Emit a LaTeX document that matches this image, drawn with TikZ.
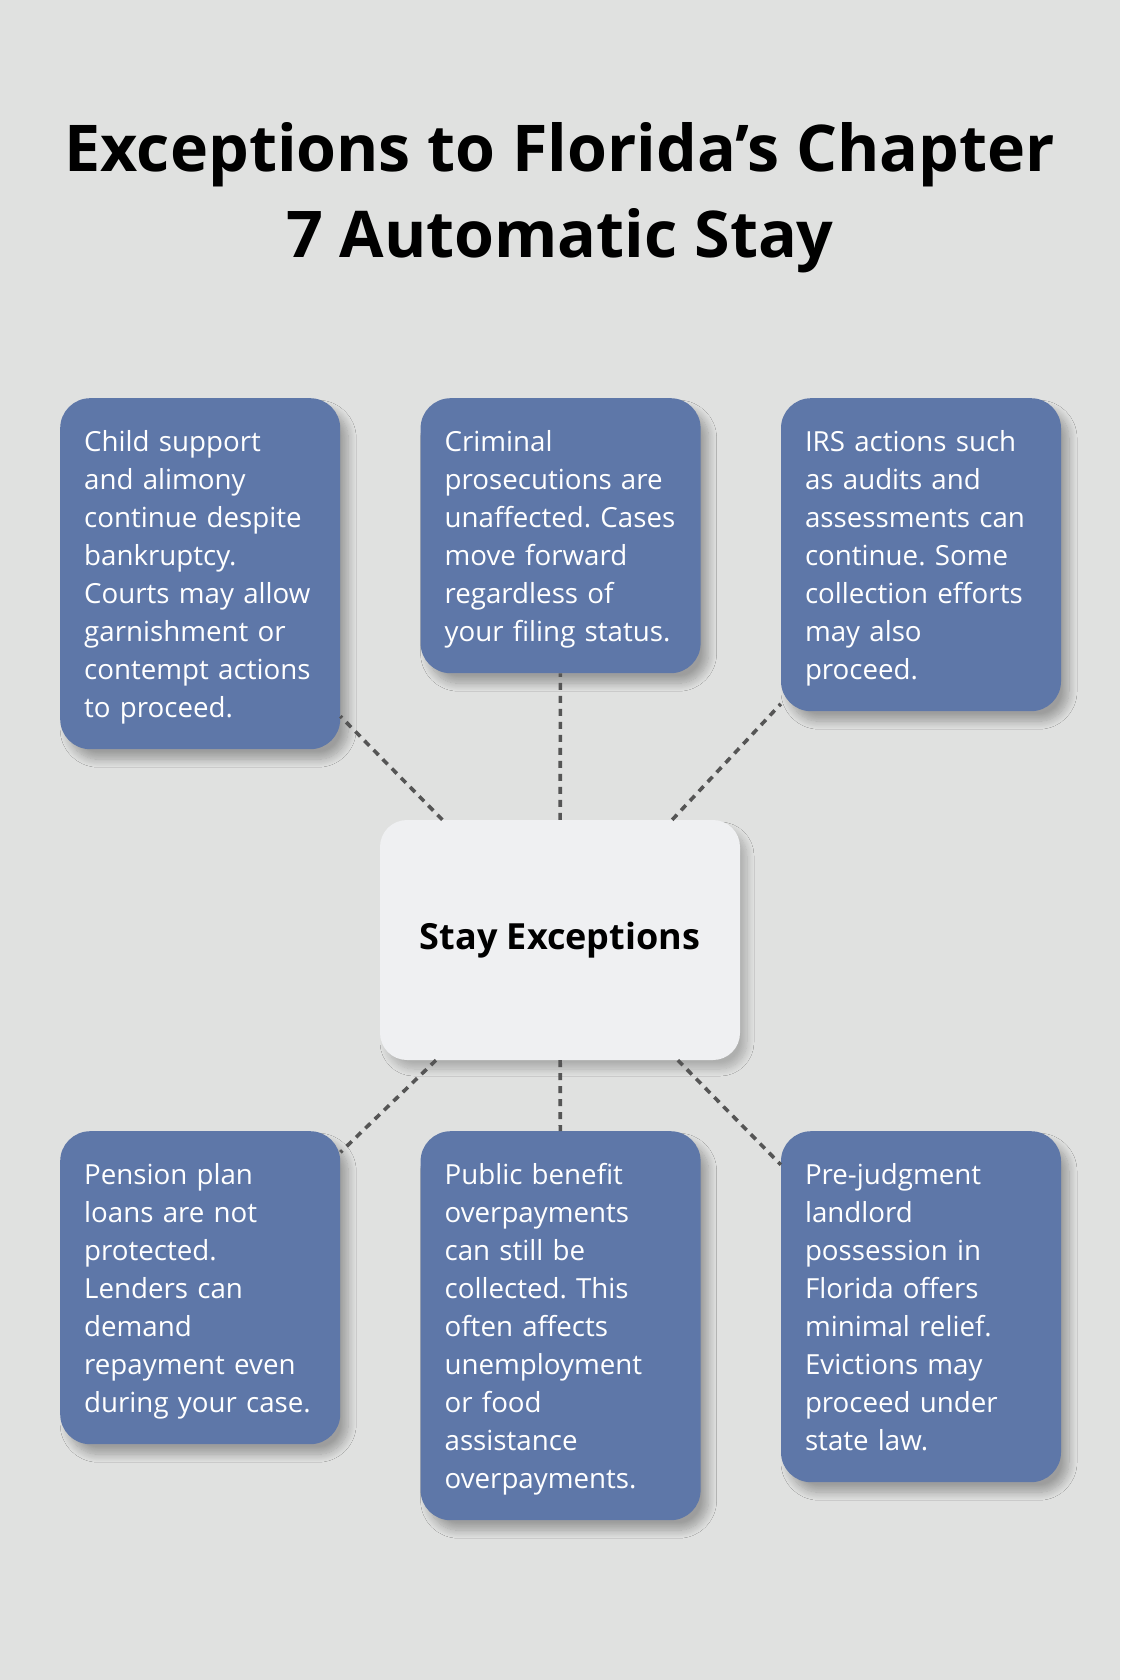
\documentclass[tikz,border=0pt]{standalone}
\usepackage{fontspec}
\setmainfont{Open Sans}
\usetikzlibrary{positioning,shadows.blur}
\definecolor{bgray}{HTML}{E0E1E0}
\definecolor{slate}{HTML}{5E77A8}
\definecolor{paper}{HTML}{EFF0F2}
\definecolor{dashgray}{HTML}{555555}
\newcommand{\tallstrut}{\rule[-8.5pt]{0pt}{38pt}}
\frenchspacing

\begin{document}
\begin{tikzpicture}
    [x=1pt, y=-1pt, node distance=80pt,
    % STYLES
    % The exception style is used for the six blue boxes
    exception/.style={rectangle, rounded corners=30pt, fill=slate, text=white, inner xsep=24pt, inner ysep=23.5pt, text width=232pt, align=left, font=\fontsize{27.7}{38}\selectfont, execute at begin node=\tallstrut, execute at end node=\tallstrut, blur shadow={shadow xshift=8pt, shadow yshift=-10pt, shadow blur radius=8pt, shadow blur steps=12, shadow opacity=30}},
    % The hub style is used for the light box in the middle
    hub/.style={rectangle, rounded corners=27pt, fill=paper, minimum width=360pt, minimum height=240pt, font=\bfseries\fontsize{36}{44}\selectfont, blur shadow={shadow xshift=7pt, shadow yshift=-9pt, shadow blur radius=7pt, shadow blur steps=12, shadow opacity=22}},
    % The link style is used for the dotted connectors
    link/.style={draw=dashgray, line width=3.6pt, dash pattern=on 7pt off 6pt}]

    \fill[bgray] (0,0) rectangle (1120,1680);

    % Title
    \node[anchor=north, inner sep=0pt, align=center, font=\bfseries\fontsize{64.5}{86}\selectfont] (title) at (560,111) {\rule{0pt}{60pt}Exceptions to Florida’s Chapter\\7 Automatic Stay};

    % Upper row
    \node[exception, anchor=north west] (a) at (60,398) {
    Child support\\
    and alimony\\
    continue despite\\
    bankruptcy.\\
    Courts may allow\\
    garnishment or\\
    contempt actions\\
    to proceed.
    };
    \node[exception, right=80pt of a.north east, anchor=north west] (b) {
    Criminal\\
    prosecutions are\\
    unaffected. Cases\\
    move forward\\
    regardless of\\
    your filing status.
    };
    \node[exception, right=80pt of b.north east, anchor=north west] (c) {
    IRS actions such\\
    as audits and\\
    assessments can\\
    continue. Some\\
    collection efforts\\
    may also\\
    proceed.
    };

    % Middle
    \node[hub] (hub) at (560,940) {Stay Exceptions};

    % Lower row
    \node[exception, anchor=north west] (d) at (60,1131) {
    Pension plan\\
    loans are not\\
    protected.\\
    Lenders can\\
    demand\\
    repayment even\\
    during your case.
    };
    \node[exception, right=80pt of d.north east, anchor=north west] (e) {
    Public benefit\\
    overpayments\\
    can still be\\
    collected. This\\
    often affects\\
    unemployment\\
    or food\\
    assistance\\
    overpayments.
    };
    \node[exception, right=80pt of e.north east, anchor=north west] (f) {
    Pre-judgment\\
    landlord\\
    possession in\\
    Florida offers\\
    minimal relief.\\
    Evictions may\\
    proceed under\\
    state law.
    };

    \path[link]
    (hub) edge (a)
    (hub) edge (b)
    (hub) edge (c)
    (hub) edge (d)
    (hub) edge (e)
    (hub) edge (f);
\end{tikzpicture}
\end{document}
